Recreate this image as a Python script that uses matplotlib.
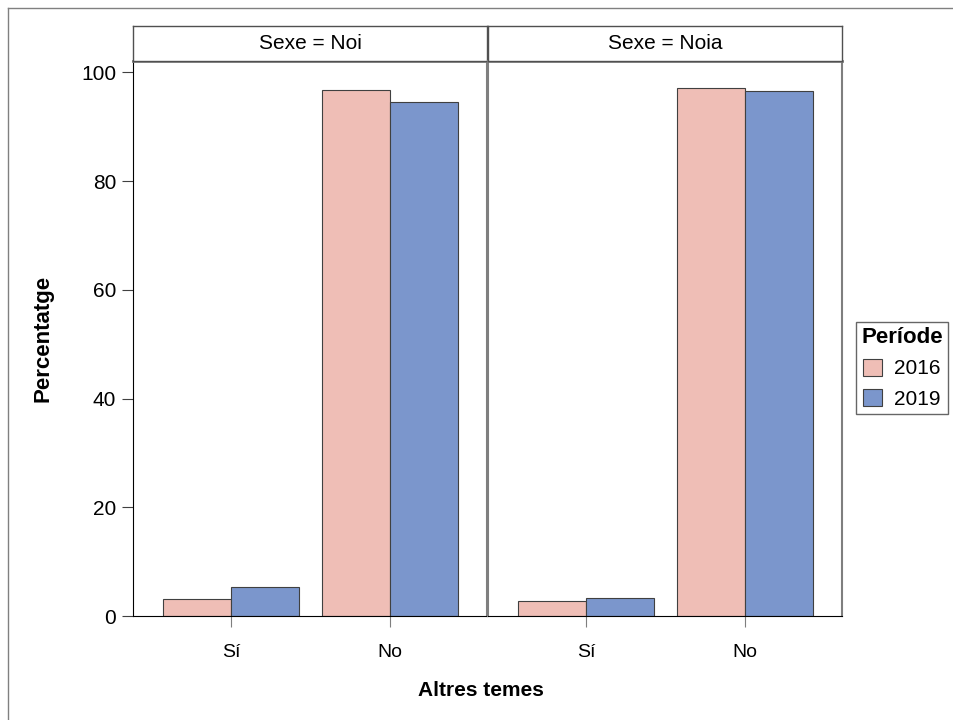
import matplotlib.pyplot as plt
from matplotlib.patches import Patch
from matplotlib.lines import Line2D

plt.rcParams['font.family'] = ['Liberation Sans', 'DejaVu Sans']

categories = ["Sí", "No"]
panels = ["Sexe = Noi", "Sexe = Noia"]
years = ["2016", "2019"]
values = {
    "Sexe = Noi": {"2016": [3.2, 96.8], "2019": [5.4, 94.6]},
    "Sexe = Noia": {"2016": [2.8, 97.2], "2019": [3.4, 96.6]},
}
colors = {"2016": "#EFBEB6", "2019": "#7B96CC"}

W, H = 954, 720
fig = plt.figure(figsize=(W / 100, H / 100), dpi=100)

# outer frame
fig.add_artist(Line2D([8.5 / W, 8.5 / W], [0, 1 - 8 / H], color="#808080", lw=1))
fig.add_artist(Line2D([8.5 / W, 1], [1 - 8 / H, 1 - 8 / H], color="#808080", lw=1))

def fx(px):
    return px / W

def fy(py):
    return 1 - py / H

lefts = [133, 488]
rights = [487, 842]
top, bottom, strip_top = 61, 616, 26
bw = 0.425
gray = "#7F7F7F"

for i, panel in enumerate(panels):
    ax = fig.add_axes([fx(lefts[i]), fy(bottom), fx(rights[i] - lefts[i]), (bottom - top) / H])
    x = range(len(categories))
    ax.bar([k - bw / 2 for k in x], values[panel]["2016"], width=bw,
           color=colors["2016"], edgecolor="#404040", linewidth=0.8)
    ax.bar([k + bw / 2 for k in x], values[panel]["2019"], width=bw,
           color=colors["2019"], edgecolor="#404040", linewidth=0.8)
    ax.set_xlim(-0.616, 1.61)
    ax.set_ylim(0, 102.1)
    ax.set_xticks(list(x))
    ax.set_xticklabels(categories, fontsize=14)
    ax.tick_params(axis="x", length=8, color=gray, pad=12)
    ax.spines["top"].set_color(gray)
    ax.spines["top"].set_linewidth(2)
    ax.spines["right"].set_color(gray)
    ax.spines["right"].set_linewidth(1.5)
    ax.spines["bottom"].set_color("black")
    if i == 0:
        ax.set_yticks([0, 20, 40, 60, 80, 100])
        ax.tick_params(axis="y", labelsize=15, length=8, color="#404040", pad=4)
        ax.set_ylabel("Percentatge", fontsize=16, fontweight="bold", labelpad=20)
    else:
        ax.set_yticks([])
        ax.spines["left"].set_color(gray)
        ax.spines["left"].set_linewidth(1.5)

    sax = fig.add_axes([fx(lefts[i]), fy(top), fx(rights[i] - lefts[i]), (top - strip_top) / H])
    sax.set_xticks([])
    sax.set_yticks([])
    for s in sax.spines.values():
        s.set_color("#505050")
        s.set_linewidth(1)
    sax.text(0.5, 0.5, panel, ha="center", va="center", fontsize=15, transform=sax.transAxes)

fig.text(fx(481), fy(690), "Altres temes", ha="center", va="center", fontsize=15, fontweight="bold")

handles = [Patch(facecolor=colors[y], edgecolor="#404040", linewidth=0.8) for y in years]
leg = fig.legend(handles, years, title="Període", loc="upper left",
                 bbox_to_anchor=(fx(856), fy(322)), fontsize=15, title_fontsize=16,
                 frameon=True, fancybox=False, edgecolor="#404040", handlelength=0.9,
                 handleheight=0.9, handletextpad=0.6, borderpad=0.25, labelspacing=0.5,
                 borderaxespad=0)
leg.get_title().set_fontweight("bold")
leg.get_frame().set_linewidth(1)

fig.savefig("out.png", dpi=100)
